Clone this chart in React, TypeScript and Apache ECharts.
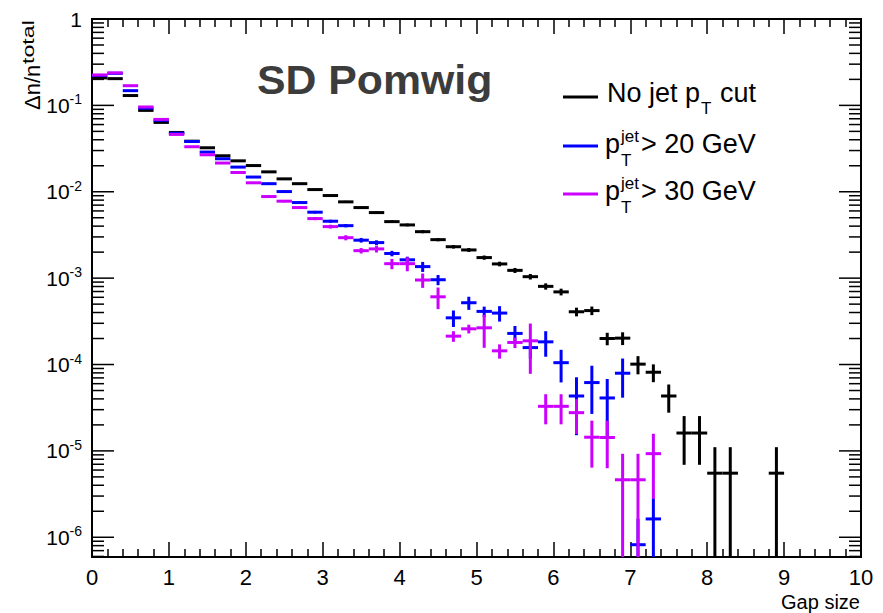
import React, { useEffect, useRef } from "react";
import * as echarts from "echarts";

// ---- data ----
const binWidth = 0.2;
const gapCenters = [
  0.1, 0.3, 0.5, 0.7, 0.9, 1.1, 1.3, 1.5, 1.7, 1.9,
  2.1, 2.3, 2.5, 2.7, 2.9, 3.1, 3.3, 3.5, 3.7, 3.9,
  4.1, 4.3, 4.5, 4.7, 4.9, 5.1, 5.3, 5.5, 5.7, 5.9,
  6.1, 6.3, 6.5, 6.7, 6.9, 7.1, 7.3, 7.5, 7.7, 7.9,
  8.1, 8.3, 8.5, 8.7, 8.9,
];

const noCutVal = [
  0.208, 0.204, 0.13, 0.0875, 0.0635, 0.0486, 0.0385, 0.0323, 0.0261, 0.0228,
  0.0201, 0.017, 0.0141, 0.0124, 0.0106, 0.00904, 0.00764, 0.00656, 0.00574, 0.00451,
  0.00413, 0.00345, 0.00279, 0.00231, 0.00212, 0.00173, 0.00146, 0.00123, 0.00104, 0.000803,
  0.000693, 0.000408, 0.000421, 0.0002, 0.000202, 0.000101, 0.0000814, 0.0000432, 0.0000161, 0.0000161,
  0.00000552, 0.00000552, null, null, 0.00000552,
];
const noCutErr = [
  0.001, 0.001, 0.00085, 0.0007, 0.00059, 0.00052, 0.00046, 0.00042, 0.00038, 0.00035,
  0.00033, 0.00031, 0.00028, 0.00026, 0.00024, 0.00022, 0.00021, 0.00019, 0.00018, 0.00016,
  0.00015, 0.00014, 0.00012, 0.00011, 0.00011, 0.000098, 0.00009, 0.000082, 0.000076, 0.000067,
  0.000062, 0.000047, 0.000048, 0.000033, 0.000034, 0.000024, 0.000019, 0.0000155, 0.0000092, 0.0000092,
  0.00000552, 0.00000552, null, null, 0.00000552,
];

const pt20Val = [
  0.222, 0.235, 0.148, 0.0928, 0.0673, 0.0476, 0.0382, 0.0288, 0.0241, 0.0193,
  0.0148, 0.0124, 0.01005, 0.0075, 0.0058, 0.00456, 0.00405, 0.00275, 0.00258, 0.00193,
  0.00163, 0.00136, 0.000958, 0.000347, 0.000519, 0.000412, 0.000394, 0.000229, 0.000157, 0.000183,
  0.000105, 0.0000432, 0.0000618, 0.000041, 0.0000793, 0.00000082, 0.00000163,
];
const pt20Err = [
  0.002, 0.002, 0.0015, 0.001, 0.0008, 0.0006, 0.0004, 0.0004, 0.0003, 0.0003,
  0.0003, 0.0003, 0.0003, 0.00025, 0.0002, 0.00018, 0.00018, 0.00017, 0.00016, 0.00014,
  0.00014, 0.00018, 0.00013, 0.000075, 0.00009, 0.000056, 0.00008, 0.00005, 0.00004, 0.00006,
  0.000043, 0.000028, 0.000035, 0.000027, 0.000038, 0.00000082, 0.0000012,
];

const pt30Val = [
  0.225, 0.238, 0.169, 0.0958, 0.0688, 0.0461, 0.0332, 0.0268, 0.0215, 0.0167,
  0.0127, 0.0088, 0.00778, 0.00656, 0.00489, 0.00395, 0.00294, 0.00208, 0.00218, 0.00147,
  0.00147, 0.000951, 0.000608, 0.000213, 0.000259, 0.000266, 0.000144, 0.00018, 0.000188, 0.0000328,
  0.0000328, 0.0000277, 0.0000144, 0.0000143, 0.00000463, 0.00000463, 0.00000929,
];
const pt30Err = [
  0.002, 0.002, 0.0015, 0.001, 0.0009, 0.0007, 0.0005, 0.0004, 0.0004, 0.0003,
  0.0003, 0.00025, 0.00025, 0.00025, 0.0002, 0.0002, 0.0002, 0.00015, 0.0002, 0.0002,
  0.00027, 0.00018, 0.00017, 0.00003, 0.00003, 0.00011, 0.000027, 0.000025, 0.00011, 0.0000125,
  0.0000125, 0.000012, 0.000008, 0.000008, 0.00000463, 0.00000463, 0.0000065,
];

const xMin = 0;
const xMax = 10;
const yMin = 5.91e-7;
const yMax = 1;
const yMajorExps = [-6, -5, -4, -3, -2, -1, 0];
const yMinorMult = [2, 3, 4, 5, 6, 7, 8, 9];

const FONT = "'Liberation Sans', Arial, Helvetica, sans-serif";

function buildSeriesData(vals: (number | null)[], errs: (number | null)[]) {
  const out: number[][] = [];
  vals.forEach((v, i) => {
    if (v === null || v === undefined) return;
    out.push([gapCenters[i], v, errs[i] ?? 0]);
  });
  return out;
}

function buildYTicks() {
  const ticks: number[][] = [];
  yMajorExps.forEach((e) => {
    const base = Math.pow(10, e);
    if (base >= yMin && base <= yMax) ticks.push([0, base, 1]);
  });
  for (let e = -7; e <= -1; e++) {
    yMinorMult.forEach((m) => {
      const v = m * Math.pow(10, e);
      if (v >= yMin && v <= yMax) ticks.push([0, v, 0]);
    });
  }
  return ticks;
}

function errorRenderer(color: string) {
  return (_params: any, api: any) => {
    const x = api.value(0);
    const v = api.value(1);
    const e = api.value(2);
    const hi = Math.min(v + e, yMax);
    const lo = Math.max(v - e, yMin);
    const pL = api.coord([x - binWidth / 2, v]);
    const pR = api.coord([x + binWidth / 2, v]);
    const pT = api.coord([x, hi]);
    const pB = api.coord([x, lo]);
    return {
      type: "group",
      children: [
        {
          type: "line",
          shape: { x1: pL[0], y1: pL[1], x2: pR[0], y2: pR[1] },
          style: { stroke: color, lineWidth: 3 },
        },
        {
          type: "line",
          shape: { x1: pT[0], y1: pT[1], x2: pB[0], y2: pB[1] },
          style: { stroke: color, lineWidth: 3 },
        },
      ],
    };
  };
}

function tickRenderer(_params: any, api: any) {
  const v = api.value(1);
  const major = api.value(2) === 1;
  const len = major ? 22 : 12;
  const pl = api.coord([xMin, v]);
  const pr = api.coord([xMax, v]);
  return {
    type: "group",
    children: [
      { type: "line", shape: { x1: pl[0], y1: pl[1], x2: pl[0] + len, y2: pl[1] }, style: { stroke: "#000", lineWidth: 1.5 } },
      { type: "line", shape: { x1: pr[0], y1: pr[1], x2: pr[0] - len, y2: pr[1] }, style: { stroke: "#000", lineWidth: 1.5 } },
    ],
  };
}

function txt(x: number, y: number, text: string, size: number, extra: any = {}) {
  return {
    type: "text",
    x,
    y,
    ...extra,
    style: { text, font: `${size}px ${FONT}`, fill: "#000", align: "left", verticalAlign: "middle" },
  };
}

export default function App() {
  const ref = useRef<HTMLDivElement>(null);
  useEffect(() => {
    document.body.style.margin = "0";
    if (!ref.current) return;
    const chart = echarts.init(ref.current, undefined, { renderer: "svg" });

    const xAxisCommon = {
      type: "value",
      min: xMin,
      max: xMax,
      interval: 1,
      axisLine: { show: true, lineStyle: { color: "#000", width: 2 } },
      axisTick: { show: true, inside: true, length: 15, lineStyle: { color: "#000", width: 1.5 } },
      minorTick: { show: true, splitNumber: 5, length: 8, lineStyle: { color: "#000", width: 1.5 } },
      splitLine: { show: false },
      minorSplitLine: { show: false },
    };

    const option: any = {
      animation: false,
      backgroundColor: "#fff",
      grid: {
        left: 92,
        right: 22,
        top: 19,
        bottom: 56,
        show: true,
        borderColor: "#000",
        borderWidth: 2,
        backgroundColor: "transparent",
      },
      xAxis: [
        {
          ...xAxisCommon,
          position: "bottom",
          axisLabel: { show: true, color: "#000", fontSize: 22, fontFamily: FONT, margin: 9 },
        },
        {
          ...xAxisCommon,
          position: "top",
          axisLabel: { show: false },
        },
      ],
      yAxis: [
        {
          type: "log",
          logBase: 10,
          min: yMin,
          max: yMax,
          splitNumber: 6,
          axisLine: { show: true, lineStyle: { color: "#000", width: 2 } },
          axisTick: { show: false },
          splitLine: { show: false },
          axisLabel: {
            show: true,
            margin: 10,
            color: "#000",
            fontFamily: FONT,
            formatter: (val: number) => {
              const lg = Math.log10(val);
              const n = Math.round(lg);
              if (Math.abs(lg - n) > 0.01) return "";
              if (n === 0) return "{b|1}";
              return `{b|10}{s|${n}}`;
            },
            rich: {
              b: { fontSize: 21, lineHeight: 26, fontFamily: FONT, color: "#000", verticalAlign: "middle" },
              s: { fontSize: 14, lineHeight: 14, fontFamily: FONT, color: "#000", verticalAlign: "top" },
            },
          },
        },
      ],
      series: [
        {
          type: "custom",
          name: "yticks",
          renderItem: tickRenderer,
          data: buildYTicks(),
          silent: true,
          z: 1,
        },
        {
          type: "custom",
          name: "No jet pT cut",
          renderItem: errorRenderer("#000000"),
          data: buildSeriesData(noCutVal, noCutErr),
          clip: true,
          z: 2,
        },
        {
          type: "custom",
          name: "pT jet > 20 GeV",
          renderItem: errorRenderer("#0000ff"),
          data: buildSeriesData(pt20Val, pt20Err),
          clip: true,
          z: 3,
        },
        {
          type: "custom",
          name: "pT jet > 30 GeV",
          renderItem: errorRenderer("#cc00ff"),
          data: buildSeriesData(pt30Val, pt30Err),
          clip: true,
          z: 4,
        },
      ],
      graphic: [
        // title
        {
          type: "text",
          x: 257,
          y: 80,
          scaleX: 1.07,
          style: {
            text: "SD Pomwig",
            font: `bold 40px ${FONT}`,
            fill: "#3c3c3c",
            align: "left",
            verticalAlign: "middle",
          },
        },
        // legend lines
        { type: "line", shape: { x1: 563, y1: 97, x2: 598, y2: 97 }, style: { stroke: "#000000", lineWidth: 3 } },
        { type: "line", shape: { x1: 563, y1: 146, x2: 598, y2: 146 }, style: { stroke: "#0000ff", lineWidth: 3 } },
        { type: "line", shape: { x1: 563, y1: 194, x2: 598, y2: 194 }, style: { stroke: "#cc00ff", lineWidth: 3 } },
        // legend row 1
        txt(607, 93, "No jet p", 27),
        txt(701, 108, "T", 17),
        txt(720, 93, "cut", 27),
        // legend row 2
        txt(605, 144, "p", 27),
        txt(621, 136, "jet", 17),
        txt(621, 160, "T", 17),
        txt(641, 144, "> 20 GeV", 27),
        // legend row 3
        txt(605, 191, "p", 27),
        txt(621, 183, "jet", 17),
        txt(621, 207, "T", 17),
        txt(641, 191, "> 30 GeV", 27),
        // x axis title
        {
          type: "text",
          x: 860,
          y: 602,
          style: { text: "Gap size", font: `20px ${FONT}`, fill: "#000", align: "right", verticalAlign: "middle" },
        },
        // y axis title (rotated)
        {
          type: "group",
          x: 32.5,
          y: 110,
          rotation: Math.PI / 2,
          children: [
            { type: "text", x: 0, y: 0, style: { text: "Δn/n", font: `22px ${FONT}`, fill: "#000", align: "left", verticalAlign: "middle" } },
            { type: "text", x: 46, y: -4, scaleX: 1.45, style: { text: "total", font: `16px ${FONT}`, fill: "#000", align: "left", verticalAlign: "middle" } },
          ],
        },
      ],
    };

    chart.setOption(option);
    return () => chart.dispose();
  }, []);

  return <div ref={ref} style={{ width: 883, height: 613 }} />;
}
